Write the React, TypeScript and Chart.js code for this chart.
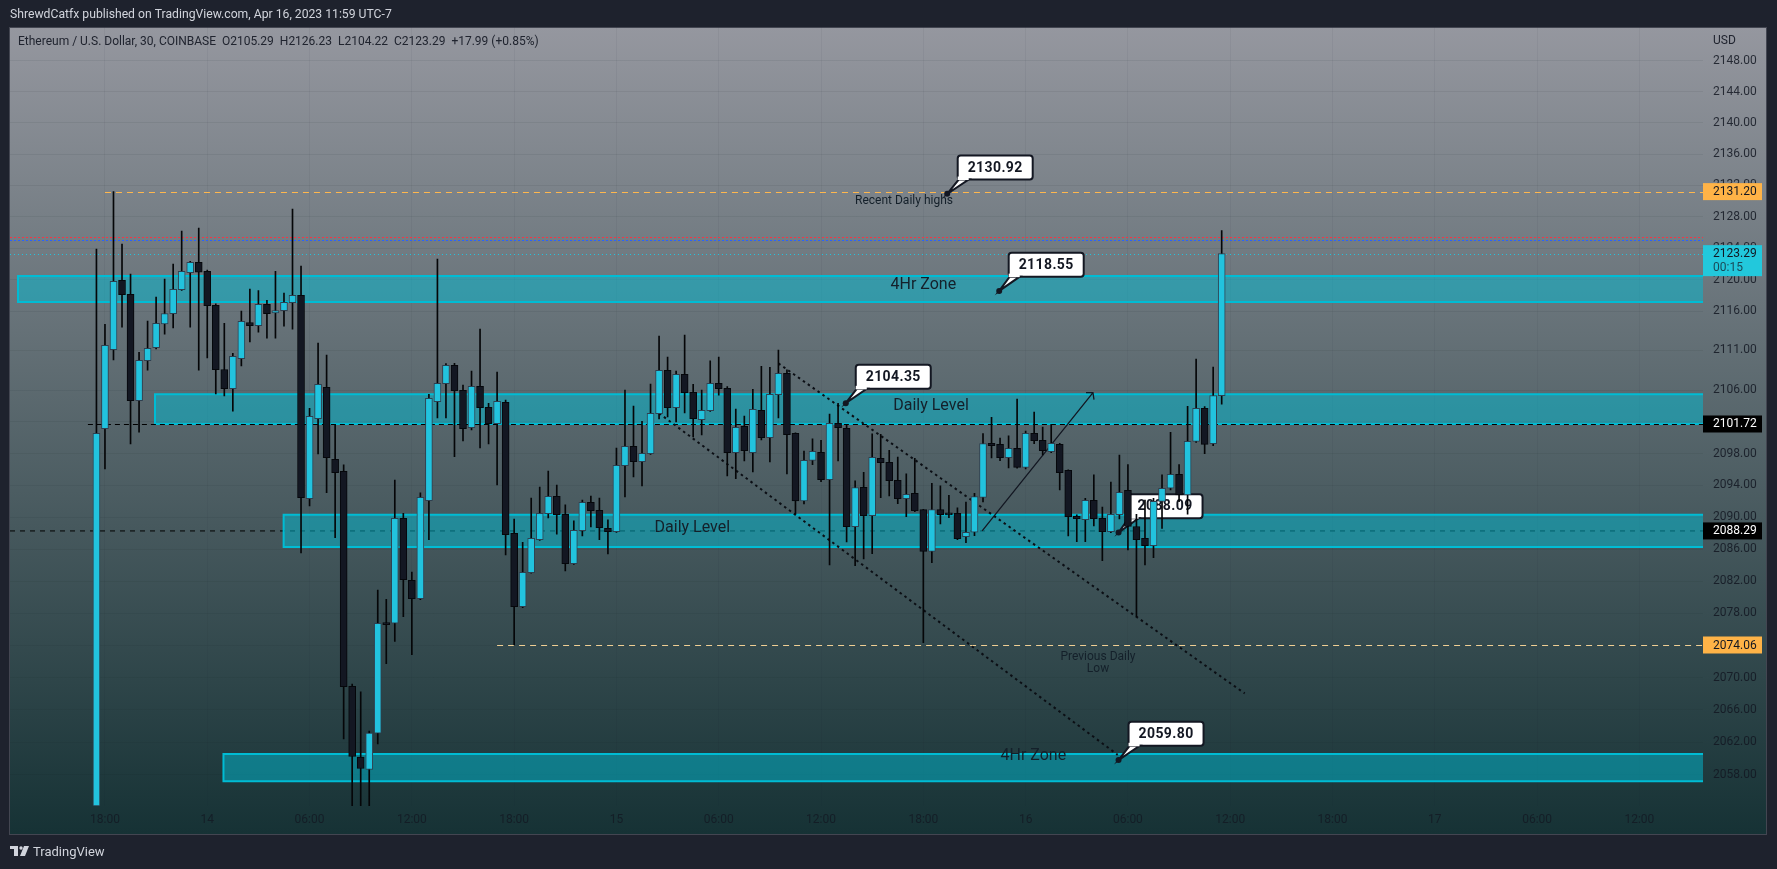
import React, { useEffect, useRef } from 'react';
import { Chart, registerables } from 'chart.js';

Chart.register(...registerables);

// 30 minute bars, first one is 17:30 on the 13th
const opens = [
  2054.16, 2101.13, 2111.10, 2119.89, 2118.11, 2104.65, 2109.71, 2111.35, 2114.38, 2115.65,
  2118.70, 2120.86, 2122.18, 2121.03, 2116.71, 2108.60, 2106.17, 2109.96, 2114.55, 2114.13,
  2116.84, 2115.77, 2116.03, 2117.05, 2117.98, 2092.33, 2102.39, 2106.34, 2097.28, 2095.77,
  2068.93, 2060.16, 2058.64, 2063.13, 2076.80, 2076.77, 2089.88, 2082.13, 2079.84, 2092.09,
  2104.53, 2106.80, 2109.12, 2105.96, 2101.26, 2106.47, 2103.82, 2101.77, 2104.45, 2088.00,
  2078.84, 2083.08, 2087.20, 2090.46, 2092.63, 2090.38, 2084.20, 2088.33, 2091.88, 2090.88,
  2088.62, 2088.20, 2096.48, 2098.91, 2096.98, 2097.99, 2103.02, 2108.48, 2103.78, 2107.98,
  2105.71, 2102.27, 2103.39, 2106.85, 2106.21, 2098.12, 2101.43, 2098.12, 2103.43, 2100.00,
  2105.41, 2108.12, 2100.55, 2092.05, 2097.15, 2098.16, 2094.72, 2101.80, 2101.18, 2088.83,
  2093.76, 2090.21, 2097.40, 2096.90, 2094.64, 2092.34, 2093.01, 2090.96, 2085.74, 2090.96,
  2090.40, 2090.50, 2087.58, 2088.12, 2092.50, 2099.29, 2099.17, 2097.49, 2098.66, 2096.27,
  2100.54, 2099.66, 2098.24, 2099.16, 2095.90, 2090.13, 2089.71, 2092.13, 2089.88, 2088.21,
  2090.34, 2093.39, 2088.84, 2087.37, 2086.45, 2092.00, 2093.64, 2095.39, 2092.80, 2099.54,
  2103.69, 2099.25, 2105.29,
];
const highs = [
  2123.87, 2114.31, 2131.20, 2124.52, 2120.69, 2110.77, 2114.72, 2117.77, 2120.05, 2121.97,
  2126.18, 2122.30, 2126.56, 2121.20, 2116.90, 2114.43, 2110.64, 2115.99, 2118.78, 2118.61,
  2117.35, 2121.03, 2118.28, 2128.98, 2121.70, 2103.69, 2111.95, 2110.43, 2101.67, 2096.57,
  2069.20, 2068.24, 2063.38, 2080.91, 2079.76, 2094.68, 2090.50, 2083.16, 2093.05, 2105.46,
  2122.60, 2109.33, 2109.37, 2106.64, 2108.40, 2113.72, 2104.32, 2108.27, 2104.74, 2089.79,
  2086.87, 2092.42, 2093.80, 2095.81, 2094.05, 2091.55, 2089.54, 2092.17, 2092.67, 2092.42,
  2089.67, 2098.70, 2106.00, 2103.98, 2102.06, 2106.76, 2112.83, 2110.18, 2108.40, 2112.96,
  2106.72, 2106.00, 2109.68, 2110.17, 2106.43, 2103.60, 2102.73, 2106.08, 2109.00, 2108.87,
  2111.06, 2108.54, 2100.60, 2098.32, 2099.84, 2099.67, 2102.98, 2104.32, 2101.56, 2094.56,
  2095.65, 2100.47, 2100.43, 2098.41, 2097.57, 2095.44, 2097.40, 2091.00, 2094.27, 2093.93,
  2092.76, 2091.17, 2091.92, 2093.01, 2100.51, 2102.56, 2099.96, 2100.22, 2104.87, 2100.83,
  2103.23, 2101.33, 2101.67, 2099.29, 2095.95, 2090.30, 2092.38, 2095.31, 2091.29, 2094.43,
  2097.82, 2096.60, 2090.38, 2092.17, 2092.38, 2095.31, 2100.67, 2096.60, 2103.94, 2109.92,
  2103.90, 2108.91, 2126.23,
];
const lows = [
  2054.16, 2096.06, 2109.80, 2113.96, 2099.20, 2100.70, 2108.50, 2111.20, 2113.08, 2113.85,
  2118.60, 2113.96, 2108.50, 2110.05, 2105.50, 2105.25, 2103.35, 2109.04, 2112.07, 2113.33,
  2112.57, 2112.57, 2114.09, 2113.71, 2085.54, 2091.41, 2097.95, 2093.09, 2087.45, 2062.43,
  2054.16, 2054.16, 2054.16, 2061.81, 2071.75, 2074.49, 2077.60, 2072.86, 2079.70, 2087.20,
  2102.48, 2102.48, 2097.61, 2099.58, 2100.97, 2098.70, 2099.20, 2094.05, 2085.29, 2074.06,
  2078.70, 2083.00, 2087.10, 2089.92, 2087.90, 2083.29, 2084.10, 2087.66, 2088.79, 2087.20,
  2085.41, 2088.10, 2092.55, 2095.06, 2093.92, 2097.90, 2102.35, 2102.60, 2101.97, 2103.10,
  2100.08, 2100.33, 2103.30, 2105.37, 2095.19, 2094.85, 2097.07, 2095.69, 2099.71, 2096.95,
  2102.48, 2095.44, 2090.42, 2091.67, 2096.61, 2094.47, 2084.04, 2097.07, 2086.91, 2083.96,
  2084.79, 2085.45, 2092.46, 2092.67, 2091.71, 2090.08, 2090.70, 2074.36, 2084.33, 2089.16,
  2089.95, 2087.20, 2086.83, 2087.70, 2091.92, 2097.45, 2097.11, 2096.19, 2096.15, 2096.06,
  2099.25, 2097.82, 2098.10, 2093.43, 2087.66, 2086.95, 2086.95, 2088.92, 2084.58, 2088.08,
  2089.80, 2085.91, 2077.60, 2084.04, 2084.95, 2088.59, 2093.43, 2091.96, 2090.38, 2099.40,
  2097.99, 2099.00, 2104.22,
];
const closes = [
  2100.55, 2111.65, 2119.76, 2118.07, 2104.65, 2109.75, 2111.27, 2114.43, 2115.69, 2118.74,
  2121.03, 2122.18, 2120.95, 2116.67, 2108.58, 2106.17, 2110.26, 2114.68, 2114.13, 2116.84,
  2115.65, 2116.07, 2117.09, 2117.98, 2092.46, 2102.68, 2106.71, 2097.48, 2095.60, 2068.89,
  2060.24, 2058.76, 2063.13, 2076.77, 2076.60, 2089.88, 2082.21, 2079.84, 2092.50, 2104.95,
  2106.85, 2109.12, 2105.92, 2101.13, 2106.47, 2103.78, 2101.77, 2104.57, 2087.83, 2078.84,
  2083.12, 2087.37, 2090.50, 2092.63, 2090.33, 2084.20, 2088.37, 2091.88, 2090.84, 2088.71,
  2088.20, 2096.52, 2098.91, 2096.98, 2098.03, 2103.06, 2108.48, 2103.78, 2107.98, 2105.67,
  2102.39, 2103.44, 2106.85, 2106.17, 2098.12, 2101.30, 2098.37, 2103.56, 2100.00, 2105.45,
  2108.12, 2100.38, 2092.05, 2097.15, 2098.28, 2094.72, 2101.80, 2101.26, 2088.83, 2093.72,
  2090.21, 2097.53, 2096.86, 2094.60, 2092.34, 2092.88, 2090.83, 2085.74, 2090.96, 2090.33,
  2090.30, 2087.33, 2088.12, 2092.59, 2099.25, 2099.00, 2097.49, 2098.67, 2096.27, 2100.54,
  2099.62, 2098.37, 2099.29, 2095.60, 2090.09, 2089.84, 2092.13, 2089.84, 2088.21, 2090.38,
  2093.13, 2088.84, 2087.20, 2086.45, 2092.00, 2093.64, 2095.39, 2092.80, 2099.54, 2103.69,
  2099.16, 2105.29, 2123.29,
];

const priceTicks = [
  2148, 2144, 2140, 2136, 2132, 2128, 2124, 2120, 2116, 2111, 2106, 2102,
  2098, 2094, 2090, 2086, 2082, 2078, 2074, 2070, 2066, 2062, 2058,
];
const timeLabels = [
  '18:00', '14', '06:00', '12:00', '18:00', '15', '06:00', '12:00',
  '18:00', '16', '06:00', '12:00', '18:00', '17', '06:00', '12:00',
];
const timeTickBars = [1, 13, 25, 37, 49, 61, 73, 85, 97, 109, 121, 133, 145, 157, 169, 181];

// visible range of the two axes
const firstBar = -10.14;
const lastBar = 188.46;
const priceMin = 2054.14;
const priceMax = 2152.27;

// drawn zones: [start bar, top price, bottom price]
const zones = [
  [-9.2, 2120.45, 2117.14],
  [6.87, 2105.46, 2101.72],
  [21.96, 2090.33, 2086.28],
  [14.9, 2060.54, 2057.2],
];
const zoneLabels = [
  ['4Hr Zone', 97, 2119.3],
  ['Daily Level', 97.9, 2103.97],
  ['Daily Level', 69.9, 2088.64],
  ['4Hr Zone', 109.9, 2060.35],
];

// long levels: [start bar, price, colour, dash]
const levelLines: [number, number, string, number[]][] = [
  [1, 2131.2, '#ffb74d', [6, 5]],
  [-10.14, 2125.45, '#f23645', [2, 2]],
  [-10.14, 2124.99, '#2962ff', [2, 2]],
  [-10.14, 2123.29, '#22c3de', [1, 3]],
  [-1, 2101.72, '#000000', [5, 4]],
  [47, 2074.06, '#f0cf94', [6, 5]],
];
const supportStart = -10.14;
const supportPrice = 2088.29;

// trend lines: [bar, price, bar, price]
const dottedLines = [
  [80, 2109.37, 134.7, 2068.05],
  [66, 2103.07, 119.8, 2060.45],
];
const arrowLine = [103.9, 2088.29, 116.9, 2105.67];

// callouts: [value shown, bar of the dot, x offset of box, y offset of box]
const callouts: [number, number, number, number][] = [
  [2130.92, 99.8, 10.5, -38.3],
  [2118.55, 105.9, 9.5, -38.3],
  [2104.35, 87.9, 10, -38.3],
  [2088.09, 119.9, 9, -38.3],
  [2059.8, 119.9, 10, -38.3],
];

// price tags on the axis: [price, text, background, text colour]
const priceTags: [number, string, string, string][] = [
  [2131.2, '2131.20', '#ffb347', '#131722'],
  [2101.72, '2101.72', '#000000', '#ffffff'],
  [2088.29, '2088.29', '#000000', '#ffffff'],
  [2074.06, '2074.06', '#ffb347', '#131722'],
];

const FONT = 'Roboto, sans-serif';
const UP = '#22c3de';
const DOWN = '#131722';

function drawDot(ctx: CanvasRenderingContext2D, x: number, y: number, r: number) {
  ctx.beginPath();
  ctx.arc(x, y, r, 0, Math.PI * 2);
  ctx.fill();
}

const overlay = {
  id: 'overlay',
  beforeDraw(chart: any) {
    const { ctx, width, height, chartArea } = chart;
    ctx.save();
    ctx.fillStyle = '#1e222d';
    ctx.fillRect(0, 0, width, height);
    // panel with the gradient
    const g = ctx.createLinearGradient(0, 27, 0, 834);
    g.addColorStop(0, '#95979f');
    g.addColorStop(1, '#163235');
    ctx.fillStyle = g;
    ctx.fillRect(10, 27, 1757, 807);
    ctx.strokeStyle = '#434651';
    ctx.lineWidth = 1;
    ctx.strokeRect(9.5, 27.5, 1757, 807);

    ctx.textBaseline = 'middle';
    ctx.fillStyle = '#d1d4dc';
    ctx.font = '12.2px ' + FONT;
    ctx.fillText('ShrewdCatfx published on TradingView.com, Apr 16, 2023 11:59 UTC-7', 10, 15);
    ctx.fillStyle = '#20242f';
    ctx.font = '12px ' + FONT;
    ctx.fillText('Ethereum / U.S. Dollar, 30, COINBASE  O2105.29  H2126.23  L2104.22  C2123.29  +17.99 (+0.85%)', 18, 42);
    ctx.fillText('USD', chartArea.right + 10, 41);

    // logo
    ctx.fillStyle = '#d1d4dc';
    ctx.font = '13px ' + FONT;
    ctx.fillText('TradingView', 33, 853);
    ctx.fillRect(10, 846, 8, 3);
    ctx.fillRect(14, 846, 4, 10);
    drawDot(ctx, 21, 848, 1.7);
    ctx.beginPath();
    ctx.moveTo(24, 846);
    ctx.lineTo(29, 846);
    ctx.lineTo(25, 856);
    ctx.lineTo(20, 856);
    ctx.fill();
    ctx.restore();
  },
  beforeDatasetsDraw(chart: any) {
    const { ctx, chartArea } = chart;
    const x = chart.scales.x;
    const y = chart.scales.y;
    ctx.save();

    // this level sits under the zones
    ctx.strokeStyle = '#000000';
    ctx.lineWidth = 1;
    ctx.setLineDash([5, 5]);
    ctx.beginPath();
    ctx.moveTo(x.getPixelForValue(supportStart), y.getPixelForValue(supportPrice));
    ctx.lineTo(chartArea.right, y.getPixelForValue(supportPrice));
    ctx.stroke();
    ctx.setLineDash([]);

    zones.forEach(([start, top, bottom]) => {
      const left = x.getPixelForValue(start);
      const t = y.getPixelForValue(top);
      const b = y.getPixelForValue(bottom);
      ctx.fillStyle = 'rgba(0,188,212,0.5)';
      ctx.fillRect(left, t, chartArea.right - left, b - t);
      ctx.strokeStyle = '#00bcd4';
      ctx.lineWidth = 2;
      ctx.beginPath();
      ctx.moveTo(chartArea.right, t);
      ctx.lineTo(left, t);
      ctx.lineTo(left, b);
      ctx.lineTo(chartArea.right, b);
      ctx.stroke();
    });

    levelLines.forEach(([start, price, color, dash]) => {
      const py = Math.round(y.getPixelForValue(price)) + 0.5;
      ctx.strokeStyle = color;
      ctx.lineWidth = 1;
      ctx.setLineDash(dash);
      ctx.beginPath();
      ctx.moveTo(x.getPixelForValue(start), py);
      ctx.lineTo(chartArea.right, py);
      ctx.stroke();
    });

    // dotted channel
    ctx.strokeStyle = '#0b0e14';
    ctx.lineWidth = 2;
    ctx.setLineDash([2.5, 3.5]);
    dottedLines.forEach(([b1, p1, b2, p2]) => {
      ctx.beginPath();
      ctx.moveTo(x.getPixelForValue(b1), y.getPixelForValue(p1));
      ctx.lineTo(x.getPixelForValue(b2), y.getPixelForValue(p2));
      ctx.stroke();
    });
    ctx.setLineDash([]);

    // arrow
    const ax1 = x.getPixelForValue(arrowLine[0]);
    const ay1 = y.getPixelForValue(arrowLine[1]);
    const ax2 = x.getPixelForValue(arrowLine[2]);
    const ay2 = y.getPixelForValue(arrowLine[3]);
    ctx.strokeStyle = '#131722';
    ctx.lineWidth = 1.3;
    ctx.beginPath();
    ctx.moveTo(ax1, ay1);
    ctx.lineTo(ax2, ay2);
    ctx.moveTo(ax2 - 7, ay2);
    ctx.lineTo(ax2, ay2);
    ctx.lineTo(ax2 + 1, ay2 + 7);
    ctx.stroke();

    // text on the chart
    ctx.fillStyle = '#14202a';
    ctx.textAlign = 'center';
    ctx.textBaseline = 'middle';
    ctx.font = '16px ' + FONT;
    zoneLabels.forEach(([text, bar, price]) => {
      ctx.fillText(text as string, x.getPixelForValue(bar as number), y.getPixelForValue(price as number));
    });
    ctx.font = '12px ' + FONT;
    ctx.fillText('Recent Daily highs', 904, 201);
    ctx.fillText('Previous Daily', 1098, 657);
    ctx.fillText('Low', 1098, 669);

    // callouts, the candles go over them
    callouts.forEach(([value, bar, dx, dy]) => {
      const px = x.getPixelForValue(bar);
      const py = y.getPixelForValue(value);
      const left = px + dx;
      const top = py + dy;
      ctx.fillStyle = '#131722';
      drawDot(ctx, px, py, 3);
      ctx.fillStyle = '#ffffff';
      ctx.strokeStyle = '#131722';
      ctx.lineWidth = 2;
      ctx.beginPath();
      ctx.roundRect(left, top, 75, 24, 3);
      ctx.fill();
      ctx.stroke();
      ctx.beginPath();
      ctx.moveTo(px, py);
      ctx.lineTo(left + 1, top + 24);
      ctx.lineTo(left + 11, top + 24);
      ctx.closePath();
      ctx.fill();
      ctx.stroke();
      ctx.fillStyle = '#ffffff';
      ctx.fillRect(left, top + 21, 11, 3.5);
      ctx.fillStyle = '#131722';
      ctx.font = 'bold 14px ' + FONT;
      ctx.letterSpacing = '0.4px';
      ctx.fillText(value.toFixed(2), left + 37.5, top + 12.5);
      ctx.letterSpacing = '0px';
    });
    ctx.restore();
  },
  afterDraw(chart: any) {
    const { ctx, chartArea } = chart;
    const y = chart.scales.y;
    const left = chartArea.right;
    ctx.save();
    ctx.textBaseline = 'middle';
    ctx.font = '12px ' + FONT;
    priceTags.forEach(([price, text, bg, color]) => {
      const py = y.getPixelForValue(price);
      ctx.fillStyle = bg;
      ctx.fillRect(left, py - 8.5, 59, 17);
      ctx.fillStyle = color;
      ctx.fillText(text, left + 10, py + 0.5);
    });
    // current price tag has the countdown too
    const cy = y.getPixelForValue(closes[closes.length - 1]);
    ctx.fillStyle = '#22c8dc';
    ctx.fillRect(left, cy - 8.5, 59, 31);
    ctx.fillStyle = '#131722';
    ctx.fillText(closes[closes.length - 1].toFixed(2), left + 10, cy + 0.5);
    ctx.fillStyle = '#1b4a58';
    ctx.fillText('00:15', left + 10, cy + 14);
    ctx.restore();
  },
};

const App: React.FC = () => {
  const canvasRef = useRef<HTMLCanvasElement | null>(null);

  useEffect(() => {
    if (!canvasRef.current) {
      return;
    }
    document.body.style.margin = '0';
    const up = closes.map((c, i) => c >= opens[i]);
    const chart = new Chart(canvasRef.current, {
      type: 'bar',
      data: {
        datasets: [
          {
            // first dataset is painted last, so bodies sit over the wicks
            data: opens.map((o, i) => ({ x: i, y: [o, closes[i]] })) as any,
            backgroundColor: up.map((u) => (u ? UP : DOWN)),
            borderColor: up.map((u) => (u ? '#2f4050' : '#05070b')),
            borderWidth: 1,
            borderSkipped: false,
            barThickness: 7,
            minBarLength: 2,
            grouped: false,
          },
          {
            data: lows.map((l, i) => ({ x: i, y: [l, highs[i]] })) as any,
            backgroundColor: '#050608',
            borderWidth: 0,
            barThickness: 1,
            grouped: false,
          },
        ],
      },
      options: {
        animation: false,
        responsive: false,
        devicePixelRatio: 1,
        layout: { padding: { left: 10, right: 10, top: 27.5, bottom: 35 } },
        plugins: {
          legend: { display: false },
          tooltip: { enabled: false },
        },
        scales: {
          x: {
            type: 'linear',
            offset: false,
            min: firstBar,
            max: lastBar,
            afterFit: (scale: any) => {
              scale.height = 28;
            },
            afterBuildTicks: (scale: any) => {
              scale.ticks = timeTickBars.map((b) => ({ value: b }));
            },
            grid: { offset: false, color: 'rgba(19,23,34,0.05)', drawTicks: false },
            border: { display: false },
            ticks: {
              autoSkip: false,
              maxRotation: 0,
              padding: 7,
              color: 'rgba(19,23,34,0.75)',
              font: { family: FONT, size: 12 },
              callback: (_v: any, i: number) => timeLabels[i],
            },
          },
          y: {
            type: 'logarithmic',
            position: 'right',
            bounds: 'data',
            min: priceMin,
            max: priceMax,
            afterFit: (scale: any) => {
              scale.width = 64;
            },
            afterBuildTicks: (scale: any) => {
              scale.ticks = priceTicks.map((v) => ({ value: v }));
            },
            grid: { color: 'rgba(19,23,34,0.07)', drawTicks: false },
            border: { display: false },
            ticks: {
              autoSkip: false,
              padding: 10,
              color: 'rgba(19,23,34,0.85)',
              font: { family: FONT, size: 12 },
              callback: (v: any) => Number(v).toFixed(2),
            },
          },
        },
      },
      plugins: [overlay],
    } as any);

    return () => {
      chart.destroy();
    };
  }, []);

  return (
    <div style={{ position: 'absolute', left: 0, top: 0, width: 1777, height: 869 }}>
      <canvas ref={canvasRef} width={1777} height={869} style={{ display: 'block' }}></canvas>
    </div>
  );
};

export default App;
